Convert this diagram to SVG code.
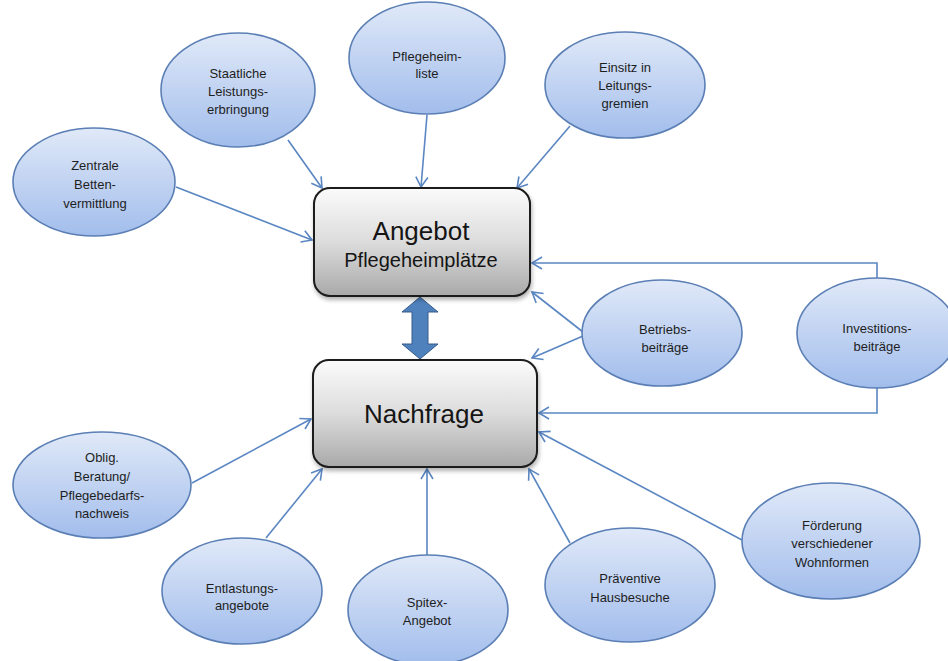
<svg xmlns="http://www.w3.org/2000/svg" width="948" height="661" viewBox="0 0 948 661">
<defs>
<linearGradient id="ell" x1="0" y1="0" x2="0" y2="1">
<stop offset="0" stop-color="#e0e9f8"/>
<stop offset="1" stop-color="#a2bdec"/>
</linearGradient>
<linearGradient id="box" x1="0" y1="0" x2="0" y2="1">
<stop offset="0" stop-color="#fbfbfb"/>
<stop offset="0.5" stop-color="#dcdcdc"/>
<stop offset="1" stop-color="#a9a9a9"/>
</linearGradient>
<filter id="sh" x="-10%" y="-10%" width="120%" height="130%">
<feDropShadow dx="1" dy="3" stdDeviation="2" flood-color="#000" flood-opacity="0.3"/>
</filter>
<marker id="ah" markerUnits="userSpaceOnUse" markerWidth="14" markerHeight="14" refX="11" refY="7" orient="auto">
<path d="M1,1 L11,7 L1,13" fill="none" stroke="#5a86c2" stroke-width="1.6"/>
</marker>
</defs>
<style>
.e{fill:url(#ell);stroke:#5b7fb5;stroke-width:1.6}
.b{fill:url(#box);stroke:#1a1a1a;stroke-width:2}
.t{font-family:"Liberation Sans",Arial,sans-serif;font-size:13px;fill:#1e1e1e;text-anchor:middle}
.bt{font-family:"Liberation Sans",Arial,sans-serif;fill:#151515;text-anchor:middle}
.c{fill:none;stroke:#5a86c2;stroke-width:1.6;marker-end:url(#ah)}
</style>
<rect width="948" height="661" fill="#ffffff"/>
<g id="connectors">
<line class="c" x1="288" y1="140" x2="322" y2="188"/>
<line class="c" x1="176" y1="187" x2="312" y2="240"/>
<line class="c" x1="427" y1="115" x2="421" y2="187"/>
<line class="c" x1="570" y1="126" x2="517" y2="188"/>
<line class="c" x1="583" y1="332" x2="532" y2="292"/>
<line class="c" x1="583" y1="336" x2="532" y2="358"/>
<path class="c" d="M877,279 V263 H532"/>
<path class="c" d="M877,387 V413 H539"/>
<line class="c" x1="192" y1="483" x2="311" y2="419"/>
<line class="c" x1="266" y1="538" x2="322" y2="469"/>
<line class="c" x1="427" y1="555" x2="427" y2="469"/>
<line class="c" x1="570" y1="543" x2="529" y2="469"/>
<line class="c" x1="742" y1="540" x2="539" y2="432"/>
<polygon points="420,297 438,312 428,312 428,344 438,344 420,359 402,344 412,344 412,312 402,312" fill="#4f81bd" stroke="#385d8a" stroke-width="1"/>
</g>
<g id="angebot">
<rect class="b" x="314" y="188" width="216" height="108" rx="16" filter="url(#sh)"/>
<text class="bt" x="421" y="240" font-size="26">Angebot</text>
<text class="bt" x="421" y="267" font-size="20">Pflegeheimplätze</text>
</g>
<g id="nachfrage">
<rect class="b" x="313" y="360" width="224" height="107" rx="16" filter="url(#sh)"/>
<text class="bt" x="424" y="423" font-size="26">Nachfrage</text>
</g>
<g id="zentrale">
<ellipse class="e" cx="94" cy="182" rx="81" ry="54"/>
<text class="t" x="95" y="170">Zentrale</text>
<text class="t" x="95" y="189">Betten-</text>
<text class="t" x="95" y="208">vermittlung</text>
</g>
<g id="staatliche">
<ellipse class="e" cx="238" cy="90" rx="77" ry="57"/>
<text class="t" x="238" y="78">Staatliche</text>
<text class="t" x="238" y="96">Leistungs-</text>
<text class="t" x="238" y="114">erbringung</text>
</g>
<g id="pflegeheimliste">
<ellipse class="e" cx="427" cy="58" rx="78" ry="56"/>
<text class="t" x="427" y="61">Pflegeheim-</text>
<text class="t" x="427" y="78">liste</text>
</g>
<g id="einsitz">
<ellipse class="e" cx="625" cy="85" rx="80" ry="53"/>
<text class="t" x="625" y="72">Einsitz in</text>
<text class="t" x="625" y="90">Leitungs-</text>
<text class="t" x="625" y="108">gremien</text>
</g>
<g id="betriebsbeitraege">
<ellipse class="e" cx="662" cy="333" rx="80" ry="53"/>
<text class="t" x="665" y="334">Betriebs-</text>
<text class="t" x="665" y="352">beiträge</text>
</g>
<g id="investitionsbeitraege">
<ellipse class="e" cx="877" cy="333" rx="80" ry="55"/>
<text class="t" x="877" y="333">Investitions-</text>
<text class="t" x="877" y="351">beiträge</text>
</g>
<g id="oblig">
<ellipse class="e" cx="102" cy="485" rx="89" ry="53"/>
<text class="t" x="102" y="462">Oblig.</text>
<text class="t" x="102" y="481">Beratung/</text>
<text class="t" x="102" y="500">Pflegebedarfs-</text>
<text class="t" x="102" y="518">nachweis</text>
</g>
<g id="entlastung">
<ellipse class="e" cx="242" cy="591" rx="80" ry="53"/>
<text class="t" x="242" y="593">Entlastungs-</text>
<text class="t" x="242" y="610">angebote</text>
</g>
<g id="spitex">
<ellipse class="e" cx="428" cy="610" rx="80" ry="55"/>
<text class="t" x="427" y="607">Spitex-</text>
<text class="t" x="427" y="625">Angebot</text>
</g>
<g id="praeventive">
<ellipse class="e" cx="630" cy="585" rx="85" ry="57"/>
<text class="t" x="630" y="583">Präventive</text>
<text class="t" x="630" y="602">Hausbesuche</text>
</g>
<g id="foerderung">
<ellipse class="e" cx="831" cy="541" rx="89" ry="58"/>
<text class="t" x="832" y="530">Förderung</text>
<text class="t" x="832" y="548">verschiedener</text>
<text class="t" x="832" y="567">Wohnformen</text>
</g>
</svg>
